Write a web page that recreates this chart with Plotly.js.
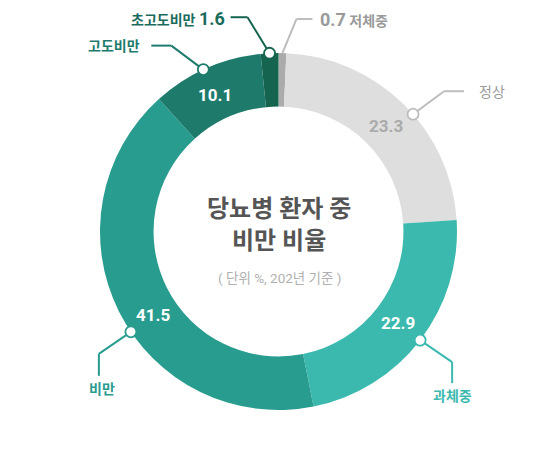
<!DOCTYPE html>
<html><head><meta charset="utf-8">
<script src="https://cdn.plot.ly/plotly-3.0.1.min.js"></script>
<style>html,body{margin:0;padding:0;background:#fff}#chart{width:550px;height:450px}</style>
</head><body><div id="chart"></div>
<script>
// ---- data ----
const categories = ["저체중", "정상", "과체중", "비만", "고도비만", "초고도비만"];
const values = [0.7, 23.3, 22.9, 41.5, 10.1, 1.6];
const valueLabels = ["0.7", "23.3", "22.9", "41.5", "10.1", "1.6"];
const titleLines = ["당뇨병 환자 중", "비만 비율"];
const subtitle = "( 단위 %, 202년 기준 )";

// ---- style ----
const sliceColors = ["#ababab", "#dedede", "#3bb9ae", "#289c8e", "#1e7b6c", "#14644f"];
const valueColors = ["#999999", "#aaaaaa", "#ffffff", "#ffffff", "#ffffff", "#1a6b5c"];
const labelColors = ["#9a9a9a", "#9a9a9a", "#3bb9ae", "#289c8e", "#1e7b6c", "#1a6b5c"];
const dotShiftDeg = [0, 4.5, 0, -7.5, -1, 0];
const valueShiftDeg = [0, 1, 0, -7, -1, 0];
const W = 550, H = 450, CX = 278.5, CY = 231.5, R = 178.5, HOLE = 0.70;
const FONT = "Roboto, 'Noto Sans CJK KR', sans-serif";

const total = values.reduce((a, b) => a + b, 0);
const mids = [];
let acc = 0;
values.forEach(v => { mids.push((acc + v / 2) / total * 2 * Math.PI); acc += v; });
const pt = (ang, r) => [CX + r * Math.sin(ang), CY - r * Math.cos(ang)];
const px = x => x / W, py = y => 1 - y / H;
const deg = d => d * Math.PI / 180;

const shapes = [], annotations = [];
// leader lines: elbows relative to dot
const leader = {
  0: {elbow: [14, -34], end: [30, -34], text: [36, -34], anchor: "left", dot: false},
  1: {elbow: [31, -23], end: [51, -23], text: [64, -22], anchor: "left", dot: true},
  2: {elbow: [32, 22], end: [32, 43], text: [32, 56], anchor: "center", dot: true},
  3: {elbow: [-32, 22], end: [-32, 44], text: [-29, 57], anchor: "center", dot: true},
  4: {elbow: [-32, -24], end: [-52, -24], text: [-61, -24], anchor: "right", dot: true},
  5: {elbow: [-22, -36], end: [-39, -36], text: [-43, -35], anchor: "right", dot: true}
};
values.forEach((v, i) => {
  const [dx, dy] = pt(mids[i] + deg(dotShiftDeg[i]), R);
  const L = leader[i];
  const ex = dx + L.elbow[0], ey = dy + L.elbow[1];
  const fx = dx + L.end[0], fy = dy + L.end[1];
  const col = i <= 1 ? "#bdbdbd" : sliceColors[i];
  shapes.push({type: "line", xref: "paper", yref: "paper", x0: px(dx), y0: py(dy), x1: px(ex), y1: py(ey), line: {color: col, width: 2}});
  shapes.push({type: "line", xref: "paper", yref: "paper", x0: px(ex), y0: py(ey), x1: px(fx), y1: py(fy), line: {color: col, width: 2}});
  if (L.dot) {
    const rr = 5.5;
    shapes.push({type: "circle", xref: "paper", yref: "paper", x0: px(dx - rr), x1: px(dx + rr), y0: py(dy + rr), y1: py(dy - rr), fillcolor: "#ffffff", line: {color: col, width: 1.8}});
  }
  let txt;
  if (i === 0) txt = '<b><span style="font-size:18px">' + valueLabels[i] + '</span> ' + categories[i] + '</b>';
  else if (i === 5) txt = '<b>' + categories[i] + ' <span style="font-size:18px">' + valueLabels[i] + '</span></b>';
  else if (i === 1) txt = categories[i];
  else txt = '<b>' + categories[i] + '</b>';
  annotations.push({xref: "paper", yref: "paper", x: px(dx + L.text[0]), y: py(dy + L.text[1]), text: txt, showarrow: false,
    xanchor: L.anchor, yanchor: "middle", font: {family: FONT, size: 14, color: labelColors[i]}});
  if (i >= 1 && i <= 4) {
    const [tx, ty] = pt(mids[i] + deg(valueShiftDeg[i]), 151);
    annotations.push({xref: "paper", yref: "paper", x: px(tx), y: py(ty), text: "<b>" + valueLabels[i] + "</b>", showarrow: false,
      xanchor: "center", yanchor: "middle", font: {family: FONT, size: 17, color: valueColors[i]}});
  }
});
annotations.push({xref: "paper", yref: "paper", x: px(279), y: py(209), text: "<b>" + titleLines[0] + "</b>", showarrow: false, xanchor: "center", yanchor: "middle", font: {family: FONT, size: 24, color: "#555555"}});
annotations.push({xref: "paper", yref: "paper", x: px(279), y: py(241), text: "<b>" + titleLines[1] + "</b>", showarrow: false, xanchor: "center", yanchor: "middle", font: {family: FONT, size: 24, color: "#555555"}});
annotations.push({xref: "paper", yref: "paper", x: px(279), y: py(278), text: subtitle, showarrow: false, xanchor: "center", yanchor: "middle", font: {family: FONT, size: 13.5, color: "#b0b0b0"}});

const trace = {
  type: "pie", labels: categories, values: values, hole: HOLE, sort: false, direction: "clockwise", rotation: 0,
  marker: {colors: sliceColors, line: {width: 0}}, textinfo: "none", hoverinfo: "label+value",
  domain: {x: [px(CX - R), px(CX + R)], y: [py(CY + R), py(CY - R)]}
};
const layout = {width: W, height: H, margin: {l: 0, r: 0, t: 0, b: 0}, showlegend: false,
  paper_bgcolor: "#ffffff", plot_bgcolor: "#ffffff", shapes: shapes, annotations: annotations, font: {family: FONT}};
Plotly.newPlot("chart", [trace], layout, {displayModeBar: false, staticPlot: true});
</script></body></html>
